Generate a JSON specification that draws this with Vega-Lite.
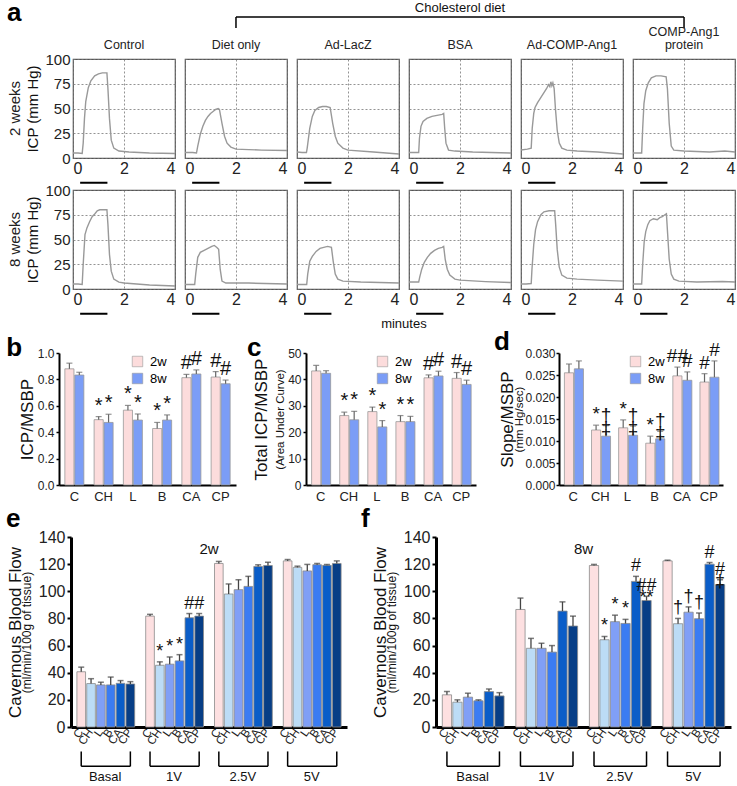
{
"$schema":"https://vega.github.io/schema/vega-lite/v6.json",
"padding":{"left":5,"top":0,"right":0,"bottom":0},
"config":{"font":"Liberation Sans","view":{"stroke":"#555","strokeWidth":1.2},"axis":{"labelColor":"#222","titleColor":"#111","titleFontWeight":"normal","labelOverlap":false},"header":{"labelColor":"#222"}},
"datasets":{
"icp":[
{"g":"Control","w":"2 weeks","k":"tr","t":0,"v":5},{"g":"Control","w":"2 weeks","k":"tr","t":0.2,"v":5},{"g":"Control","w":"2 weeks","k":"tr","t":0.36,"v":4.5},{"g":"Control","w":"2 weeks","k":"tr","t":0.4,"v":15},{"g":"Control","w":"2 weeks","k":"tr","t":0.45,"v":40},{"g":"Control","w":"2 weeks","k":"tr","t":0.5,"v":57},{"g":"Control","w":"2 weeks","k":"tr","t":0.6,"v":71},{"g":"Control","w":"2 weeks","k":"tr","t":0.7,"v":78},{"g":"Control","w":"2 weeks","k":"tr","t":0.85,"v":83},{"g":"Control","w":"2 weeks","k":"tr","t":1.0,"v":85},{"g":"Control","w":"2 weeks","k":"tr","t":1.15,"v":86},{"g":"Control","w":"2 weeks","k":"tr","t":1.33,"v":86},{"g":"Control","w":"2 weeks","k":"tr","t":1.37,"v":70},{"g":"Control","w":"2 weeks","k":"tr","t":1.43,"v":40},{"g":"Control","w":"2 weeks","k":"tr","t":1.5,"v":18},{"g":"Control","w":"2 weeks","k":"tr","t":1.6,"v":10},{"g":"Control","w":"2 weeks","k":"tr","t":1.8,"v":7},{"g":"Control","w":"2 weeks","k":"tr","t":2.2,"v":6},{"g":"Control","w":"2 weeks","k":"tr","t":3,"v":5},{"g":"Control","w":"2 weeks","k":"tr","t":4,"v":4.5},
{"g":"Diet only","w":"2 weeks","k":"tr","t":0,"v":5.5},{"g":"Diet only","w":"2 weeks","k":"tr","t":0.3,"v":5.5},{"g":"Diet only","w":"2 weeks","k":"tr","t":0.45,"v":5},{"g":"Diet only","w":"2 weeks","k":"tr","t":0.5,"v":12},{"g":"Diet only","w":"2 weeks","k":"tr","t":0.6,"v":24},{"g":"Diet only","w":"2 weeks","k":"tr","t":0.7,"v":32},{"g":"Diet only","w":"2 weeks","k":"tr","t":0.8,"v":38},{"g":"Diet only","w":"2 weeks","k":"tr","t":0.9,"v":42},{"g":"Diet only","w":"2 weeks","k":"tr","t":1.0,"v":45},{"g":"Diet only","w":"2 weeks","k":"tr","t":1.1,"v":47},{"g":"Diet only","w":"2 weeks","k":"tr","t":1.2,"v":49},{"g":"Diet only","w":"2 weeks","k":"tr","t":1.3,"v":50},{"g":"Diet only","w":"2 weeks","k":"tr","t":1.35,"v":49},{"g":"Diet only","w":"2 weeks","k":"tr","t":1.45,"v":35},{"g":"Diet only","w":"2 weeks","k":"tr","t":1.55,"v":22},{"g":"Diet only","w":"2 weeks","k":"tr","t":1.65,"v":15},{"g":"Diet only","w":"2 weeks","k":"tr","t":1.8,"v":11},{"g":"Diet only","w":"2 weeks","k":"tr","t":2,"v":9},{"g":"Diet only","w":"2 weeks","k":"tr","t":2.5,"v":8.5},{"g":"Diet only","w":"2 weeks","k":"tr","t":3,"v":8},{"g":"Diet only","w":"2 weeks","k":"tr","t":4,"v":7.5},
{"g":"Ad-LacZ","w":"2 weeks","k":"tr","t":0,"v":6},{"g":"Ad-LacZ","w":"2 weeks","k":"tr","t":0.2,"v":5.5},{"g":"Ad-LacZ","w":"2 weeks","k":"tr","t":0.37,"v":5.5},{"g":"Ad-LacZ","w":"2 weeks","k":"tr","t":0.4,"v":10},{"g":"Ad-LacZ","w":"2 weeks","k":"tr","t":0.5,"v":30},{"g":"Ad-LacZ","w":"2 weeks","k":"tr","t":0.6,"v":42},{"g":"Ad-LacZ","w":"2 weeks","k":"tr","t":0.7,"v":48},{"g":"Ad-LacZ","w":"2 weeks","k":"tr","t":0.85,"v":51},{"g":"Ad-LacZ","w":"2 weeks","k":"tr","t":1.0,"v":52},{"g":"Ad-LacZ","w":"2 weeks","k":"tr","t":1.15,"v":52},{"g":"Ad-LacZ","w":"2 weeks","k":"tr","t":1.3,"v":51},{"g":"Ad-LacZ","w":"2 weeks","k":"tr","t":1.4,"v":35},{"g":"Ad-LacZ","w":"2 weeks","k":"tr","t":1.5,"v":22},{"g":"Ad-LacZ","w":"2 weeks","k":"tr","t":1.6,"v":15},{"g":"Ad-LacZ","w":"2 weeks","k":"tr","t":1.8,"v":10},{"g":"Ad-LacZ","w":"2 weeks","k":"tr","t":2,"v":8},{"g":"Ad-LacZ","w":"2 weeks","k":"tr","t":3,"v":6},{"g":"Ad-LacZ","w":"2 weeks","k":"tr","t":4,"v":4},
{"g":"BSA","w":"2 weeks","k":"tr","t":0,"v":5.5},{"g":"BSA","w":"2 weeks","k":"tr","t":0.38,"v":5.5},{"g":"BSA","w":"2 weeks","k":"tr","t":0.41,"v":20},{"g":"BSA","w":"2 weeks","k":"tr","t":0.47,"v":32},{"g":"BSA","w":"2 weeks","k":"tr","t":0.55,"v":37},{"g":"BSA","w":"2 weeks","k":"tr","t":0.7,"v":40},{"g":"BSA","w":"2 weeks","k":"tr","t":0.9,"v":42},{"g":"BSA","w":"2 weeks","k":"tr","t":1.1,"v":43},{"g":"BSA","w":"2 weeks","k":"tr","t":1.3,"v":44},{"g":"BSA","w":"2 weeks","k":"tr","t":1.36,"v":45},{"g":"BSA","w":"2 weeks","k":"tr","t":1.4,"v":30},{"g":"BSA","w":"2 weeks","k":"tr","t":1.45,"v":15},{"g":"BSA","w":"2 weeks","k":"tr","t":1.55,"v":8},{"g":"BSA","w":"2 weeks","k":"tr","t":1.8,"v":7},{"g":"BSA","w":"2 weeks","k":"tr","t":2.5,"v":6},{"g":"BSA","w":"2 weeks","k":"tr","t":4,"v":5},
{"g":"Ad-COMP-Ang1","w":"2 weeks","k":"tr","t":0,"v":8},{"g":"Ad-COMP-Ang1","w":"2 weeks","k":"tr","t":0.25,"v":9},{"g":"Ad-COMP-Ang1","w":"2 weeks","k":"tr","t":0.4,"v":10},{"g":"Ad-COMP-Ang1","w":"2 weeks","k":"tr","t":0.44,"v":30},{"g":"Ad-COMP-Ang1","w":"2 weeks","k":"tr","t":0.5,"v":45},{"g":"Ad-COMP-Ang1","w":"2 weeks","k":"tr","t":0.55,"v":51},{"g":"Ad-COMP-Ang1","w":"2 weeks","k":"tr","t":0.65,"v":56},{"g":"Ad-COMP-Ang1","w":"2 weeks","k":"tr","t":0.8,"v":62},{"g":"Ad-COMP-Ang1","w":"2 weeks","k":"tr","t":0.9,"v":66},{"g":"Ad-COMP-Ang1","w":"2 weeks","k":"tr","t":1.0,"v":70},{"g":"Ad-COMP-Ang1","w":"2 weeks","k":"tr","t":1.08,"v":74},{"g":"Ad-COMP-Ang1","w":"2 weeks","k":"tr","t":1.13,"v":72},{"g":"Ad-COMP-Ang1","w":"2 weeks","k":"tr","t":1.17,"v":77},{"g":"Ad-COMP-Ang1","w":"2 weeks","k":"tr","t":1.21,"v":73},{"g":"Ad-COMP-Ang1","w":"2 weeks","k":"tr","t":1.25,"v":76},{"g":"Ad-COMP-Ang1","w":"2 weeks","k":"tr","t":1.3,"v":70},{"g":"Ad-COMP-Ang1","w":"2 weeks","k":"tr","t":1.35,"v":50},{"g":"Ad-COMP-Ang1","w":"2 weeks","k":"tr","t":1.42,"v":28},{"g":"Ad-COMP-Ang1","w":"2 weeks","k":"tr","t":1.5,"v":15},{"g":"Ad-COMP-Ang1","w":"2 weeks","k":"tr","t":1.6,"v":10},{"g":"Ad-COMP-Ang1","w":"2 weeks","k":"tr","t":1.8,"v":8},{"g":"Ad-COMP-Ang1","w":"2 weeks","k":"tr","t":2.2,"v":7},{"g":"Ad-COMP-Ang1","w":"2 weeks","k":"tr","t":3,"v":6},{"g":"Ad-COMP-Ang1","w":"2 weeks","k":"tr","t":4,"v":4},
{"g":"COMP-Ang1|protein","w":"2 weeks","k":"tr","t":0,"v":5},{"g":"COMP-Ang1|protein","w":"2 weeks","k":"tr","t":0.2,"v":5},{"g":"COMP-Ang1|protein","w":"2 weeks","k":"tr","t":0.34,"v":5},{"g":"COMP-Ang1|protein","w":"2 weeks","k":"tr","t":0.38,"v":30},{"g":"COMP-Ang1|protein","w":"2 weeks","k":"tr","t":0.43,"v":55},{"g":"COMP-Ang1|protein","w":"2 weeks","k":"tr","t":0.5,"v":68},{"g":"COMP-Ang1|protein","w":"2 weeks","k":"tr","t":0.6,"v":76},{"g":"COMP-Ang1|protein","w":"2 weeks","k":"tr","t":0.72,"v":81},{"g":"COMP-Ang1|protein","w":"2 weeks","k":"tr","t":0.9,"v":83},{"g":"COMP-Ang1|protein","w":"2 weeks","k":"tr","t":1.1,"v":83},{"g":"COMP-Ang1|protein","w":"2 weeks","k":"tr","t":1.3,"v":82},{"g":"COMP-Ang1|protein","w":"2 weeks","k":"tr","t":1.35,"v":70},{"g":"COMP-Ang1|protein","w":"2 weeks","k":"tr","t":1.42,"v":35},{"g":"COMP-Ang1|protein","w":"2 weeks","k":"tr","t":1.5,"v":12},{"g":"COMP-Ang1|protein","w":"2 weeks","k":"tr","t":1.6,"v":8},{"g":"COMP-Ang1|protein","w":"2 weeks","k":"tr","t":2,"v":7},{"g":"COMP-Ang1|protein","w":"2 weeks","k":"tr","t":3,"v":6},{"g":"COMP-Ang1|protein","w":"2 weeks","k":"tr","t":3.6,"v":7},{"g":"COMP-Ang1|protein","w":"2 weeks","k":"tr","t":4,"v":6},
{"g":"Control","w":"8 weeks","k":"tr","t":0,"v":5},{"g":"Control","w":"8 weeks","k":"tr","t":0.2,"v":5},{"g":"Control","w":"8 weeks","k":"tr","t":0.36,"v":4.5},{"g":"Control","w":"8 weeks","k":"tr","t":0.4,"v":25},{"g":"Control","w":"8 weeks","k":"tr","t":0.47,"v":55},{"g":"Control","w":"8 weeks","k":"tr","t":0.55,"v":62},{"g":"Control","w":"8 weeks","k":"tr","t":0.65,"v":68},{"g":"Control","w":"8 weeks","k":"tr","t":0.75,"v":73},{"g":"Control","w":"8 weeks","k":"tr","t":0.86,"v":76},{"g":"Control","w":"8 weeks","k":"tr","t":0.95,"v":79},{"g":"Control","w":"8 weeks","k":"tr","t":1.05,"v":80},{"g":"Control","w":"8 weeks","k":"tr","t":1.33,"v":80},{"g":"Control","w":"8 weeks","k":"tr","t":1.37,"v":65},{"g":"Control","w":"8 weeks","k":"tr","t":1.43,"v":35},{"g":"Control","w":"8 weeks","k":"tr","t":1.5,"v":18},{"g":"Control","w":"8 weeks","k":"tr","t":1.6,"v":10},{"g":"Control","w":"8 weeks","k":"tr","t":1.8,"v":7},{"g":"Control","w":"8 weeks","k":"tr","t":2,"v":6},{"g":"Control","w":"8 weeks","k":"tr","t":3,"v":4},{"g":"Control","w":"8 weeks","k":"tr","t":4,"v":3},
{"g":"Diet only","w":"8 weeks","k":"tr","t":0,"v":4.5},{"g":"Diet only","w":"8 weeks","k":"tr","t":0.38,"v":4.5},{"g":"Diet only","w":"8 weeks","k":"tr","t":0.42,"v":15},{"g":"Diet only","w":"8 weeks","k":"tr","t":0.5,"v":32},{"g":"Diet only","w":"8 weeks","k":"tr","t":0.6,"v":37},{"g":"Diet only","w":"8 weeks","k":"tr","t":0.75,"v":39},{"g":"Diet only","w":"8 weeks","k":"tr","t":0.9,"v":41},{"g":"Diet only","w":"8 weeks","k":"tr","t":1.05,"v":43},{"g":"Diet only","w":"8 weeks","k":"tr","t":1.15,"v":44},{"g":"Diet only","w":"8 weeks","k":"tr","t":1.25,"v":42},{"g":"Diet only","w":"8 weeks","k":"tr","t":1.32,"v":40},{"g":"Diet only","w":"8 weeks","k":"tr","t":1.38,"v":20},{"g":"Diet only","w":"8 weeks","k":"tr","t":1.45,"v":8},{"g":"Diet only","w":"8 weeks","k":"tr","t":1.6,"v":6},{"g":"Diet only","w":"8 weeks","k":"tr","t":2.5,"v":6},{"g":"Diet only","w":"8 weeks","k":"tr","t":4,"v":5},
{"g":"Ad-LacZ","w":"8 weeks","k":"tr","t":0,"v":4.5},{"g":"Ad-LacZ","w":"8 weeks","k":"tr","t":0.38,"v":4.5},{"g":"Ad-LacZ","w":"8 weeks","k":"tr","t":0.42,"v":15},{"g":"Ad-LacZ","w":"8 weeks","k":"tr","t":0.5,"v":28},{"g":"Ad-LacZ","w":"8 weeks","k":"tr","t":0.6,"v":33},{"g":"Ad-LacZ","w":"8 weeks","k":"tr","t":0.75,"v":38},{"g":"Ad-LacZ","w":"8 weeks","k":"tr","t":0.9,"v":41},{"g":"Ad-LacZ","w":"8 weeks","k":"tr","t":1.05,"v":42},{"g":"Ad-LacZ","w":"8 weeks","k":"tr","t":1.2,"v":43},{"g":"Ad-LacZ","w":"8 weeks","k":"tr","t":1.35,"v":42},{"g":"Ad-LacZ","w":"8 weeks","k":"tr","t":1.42,"v":28},{"g":"Ad-LacZ","w":"8 weeks","k":"tr","t":1.5,"v":15},{"g":"Ad-LacZ","w":"8 weeks","k":"tr","t":1.6,"v":10},{"g":"Ad-LacZ","w":"8 weeks","k":"tr","t":1.8,"v":8},{"g":"Ad-LacZ","w":"8 weeks","k":"tr","t":2.5,"v":7},{"g":"Ad-LacZ","w":"8 weeks","k":"tr","t":4,"v":6},
{"g":"BSA","w":"8 weeks","k":"tr","t":0,"v":7},{"g":"BSA","w":"8 weeks","k":"tr","t":0.38,"v":7},{"g":"BSA","w":"8 weeks","k":"tr","t":0.42,"v":12},{"g":"BSA","w":"8 weeks","k":"tr","t":0.5,"v":20},{"g":"BSA","w":"8 weeks","k":"tr","t":0.6,"v":27},{"g":"BSA","w":"8 weeks","k":"tr","t":0.72,"v":32},{"g":"BSA","w":"8 weeks","k":"tr","t":0.85,"v":36},{"g":"BSA","w":"8 weeks","k":"tr","t":1.0,"v":39},{"g":"BSA","w":"8 weeks","k":"tr","t":1.15,"v":41},{"g":"BSA","w":"8 weeks","k":"tr","t":1.3,"v":42},{"g":"BSA","w":"8 weeks","k":"tr","t":1.36,"v":43},{"g":"BSA","w":"8 weeks","k":"tr","t":1.42,"v":30},{"g":"BSA","w":"8 weeks","k":"tr","t":1.5,"v":20},{"g":"BSA","w":"8 weeks","k":"tr","t":1.6,"v":14},{"g":"BSA","w":"8 weeks","k":"tr","t":1.8,"v":10},{"g":"BSA","w":"8 weeks","k":"tr","t":2,"v":9},{"g":"BSA","w":"8 weeks","k":"tr","t":3,"v":7.5},{"g":"BSA","w":"8 weeks","k":"tr","t":4,"v":6.5},
{"g":"Ad-COMP-Ang1","w":"8 weeks","k":"tr","t":0,"v":5},{"g":"Ad-COMP-Ang1","w":"8 weeks","k":"tr","t":0.2,"v":5},{"g":"Ad-COMP-Ang1","w":"8 weeks","k":"tr","t":0.4,"v":5.5},{"g":"Ad-COMP-Ang1","w":"8 weeks","k":"tr","t":0.43,"v":20},{"g":"Ad-COMP-Ang1","w":"8 weeks","k":"tr","t":0.5,"v":45},{"g":"Ad-COMP-Ang1","w":"8 weeks","k":"tr","t":0.57,"v":60},{"g":"Ad-COMP-Ang1","w":"8 weeks","k":"tr","t":0.65,"v":68},{"g":"Ad-COMP-Ang1","w":"8 weeks","k":"tr","t":0.78,"v":75},{"g":"Ad-COMP-Ang1","w":"8 weeks","k":"tr","t":0.9,"v":78},{"g":"Ad-COMP-Ang1","w":"8 weeks","k":"tr","t":1.1,"v":79},{"g":"Ad-COMP-Ang1","w":"8 weeks","k":"tr","t":1.32,"v":79},{"g":"Ad-COMP-Ang1","w":"8 weeks","k":"tr","t":1.36,"v":65},{"g":"Ad-COMP-Ang1","w":"8 weeks","k":"tr","t":1.42,"v":40},{"g":"Ad-COMP-Ang1","w":"8 weeks","k":"tr","t":1.5,"v":22},{"g":"Ad-COMP-Ang1","w":"8 weeks","k":"tr","t":1.6,"v":14},{"g":"Ad-COMP-Ang1","w":"8 weeks","k":"tr","t":1.8,"v":11},{"g":"Ad-COMP-Ang1","w":"8 weeks","k":"tr","t":2.2,"v":10},{"g":"Ad-COMP-Ang1","w":"8 weeks","k":"tr","t":3,"v":9},{"g":"Ad-COMP-Ang1","w":"8 weeks","k":"tr","t":4,"v":8},
{"g":"COMP-Ang1|protein","w":"8 weeks","k":"tr","t":0,"v":5},{"g":"COMP-Ang1|protein","w":"8 weeks","k":"tr","t":0.2,"v":5},{"g":"COMP-Ang1|protein","w":"8 weeks","k":"tr","t":0.34,"v":5},{"g":"COMP-Ang1|protein","w":"8 weeks","k":"tr","t":0.38,"v":25},{"g":"COMP-Ang1|protein","w":"8 weeks","k":"tr","t":0.44,"v":48},{"g":"COMP-Ang1|protein","w":"8 weeks","k":"tr","t":0.5,"v":58},{"g":"COMP-Ang1|protein","w":"8 weeks","k":"tr","t":0.58,"v":65},{"g":"COMP-Ang1|protein","w":"8 weeks","k":"tr","t":0.66,"v":69},{"g":"COMP-Ang1|protein","w":"8 weeks","k":"tr","t":0.8,"v":71},{"g":"COMP-Ang1|protein","w":"8 weeks","k":"tr","t":0.95,"v":70},{"g":"COMP-Ang1|protein","w":"8 weeks","k":"tr","t":1.05,"v":72},{"g":"COMP-Ang1|protein","w":"8 weeks","k":"tr","t":1.15,"v":73},{"g":"COMP-Ang1|protein","w":"8 weeks","k":"tr","t":1.25,"v":75},{"g":"COMP-Ang1|protein","w":"8 weeks","k":"tr","t":1.31,"v":76},{"g":"COMP-Ang1|protein","w":"8 weeks","k":"tr","t":1.36,"v":55},{"g":"COMP-Ang1|protein","w":"8 weeks","k":"tr","t":1.42,"v":30},{"g":"COMP-Ang1|protein","w":"8 weeks","k":"tr","t":1.5,"v":15},{"g":"COMP-Ang1|protein","w":"8 weeks","k":"tr","t":1.6,"v":10},{"g":"COMP-Ang1|protein","w":"8 weeks","k":"tr","t":1.8,"v":8},{"g":"COMP-Ang1|protein","w":"8 weeks","k":"tr","t":2.5,"v":7},{"g":"COMP-Ang1|protein","w":"8 weeks","k":"tr","t":3.5,"v":7.5},{"g":"COMP-Ang1|protein","w":"8 weeks","k":"tr","t":4,"v":7},
{"g":"Control","w":"2 weeks","k":"st","t":0.28,"t2":1.35},{"g":"Diet only","w":"2 weeks","k":"st","t":0.28,"t2":1.35},{"g":"Ad-LacZ","w":"2 weeks","k":"st","t":0.28,"t2":1.35},{"g":"BSA","w":"2 weeks","k":"st","t":0.28,"t2":1.35},{"g":"Ad-COMP-Ang1","w":"2 weeks","k":"st","t":0.28,"t2":1.35},{"g":"COMP-Ang1|protein","w":"2 weeks","k":"st","t":0.28,"t2":1.35},
{"g":"Control","w":"8 weeks","k":"st","t":0.28,"t2":1.35},{"g":"Diet only","w":"8 weeks","k":"st","t":0.28,"t2":1.35},{"g":"Ad-LacZ","w":"8 weeks","k":"st","t":0.28,"t2":1.35},{"g":"BSA","w":"8 weeks","k":"st","t":0.28,"t2":1.35},{"g":"Ad-COMP-Ang1","w":"8 weeks","k":"st","t":0.28,"t2":1.35},{"g":"COMP-Ang1|protein","w":"8 weeks","k":"st","t":0.28,"t2":1.35},
{"g":"BSA","w":"8 weeks","k":"lb","t":-0.2,"s":"minutes"}
],
"bd":[
{"c":"C","w":"2w","m":0.88,"h":0.923,"a":""},{"c":"C","w":"8w","m":0.833,"h":0.854,"a":""},
{"c":"CH","w":"2w","m":0.495,"h":0.518,"a":"*"},{"c":"CH","w":"8w","m":0.474,"h":0.536,"a":"*"},
{"c":"L","w":"2w","m":0.567,"h":0.603,"a":"*"},{"c":"L","w":"8w","m":0.492,"h":0.538,"a":"*"},
{"c":"B","w":"2w","m":0.428,"h":0.474,"a":"*"},{"c":"B","w":"8w","m":0.492,"h":0.531,"a":"*"},
{"c":"CA","w":"2w","m":0.813,"h":0.838,"a":"#"},{"c":"CA","w":"8w","m":0.841,"h":0.872,"a":"#"},
{"c":"CP","w":"2w","m":0.818,"h":0.859,"a":"#"},{"c":"CP","w":"8w","m":0.767,"h":0.795,"a":"#"}
],
"cd":[
{"c":"C","w":"2w","m":43.2,"h":45.3,"a":""},{"c":"C","w":"8w","m":42.3,"h":43.3,"a":""},
{"c":"CH","w":"2w","m":26.3,"h":27.6,"a":"*"},{"c":"CH","w":"8w","m":24.7,"h":27.9,"a":"*"},
{"c":"L","w":"2w","m":27.8,"h":29.5,"a":"*"},{"c":"L","w":"8w","m":22.0,"h":24.4,"a":"*"},
{"c":"B","w":"2w","m":24.0,"h":26.3,"a":"*"},{"c":"B","w":"8w","m":24.0,"h":26.0,"a":"*"},
{"c":"CA","w":"2w","m":40.6,"h":41.7,"a":"#"},{"c":"CA","w":"8w","m":41.3,"h":43.1,"a":"#"},
{"c":"CP","w":"2w","m":40.4,"h":42.6,"a":"#"},{"c":"CP","w":"8w","m":38.1,"h":39.7,"a":"#"}
],
"dd":[
{"c":"C","w":"2w","m":0.0255,"h":0.0275,"a":""},{"c":"C","w":"8w","m":0.0264,"h":0.0282,"a":""},
{"c":"CH","w":"2w","m":0.0125,"h":0.0136,"a":"*"},{"c":"CH","w":"8w","m":0.0111,"h":0.0135,"a":"†\n‡"},
{"c":"L","w":"2w","m":0.0130,"h":0.0148,"a":"*"},{"c":"L","w":"8w","m":0.0113,"h":0.0134,"a":"†\n‡"},
{"c":"B","w":"2w","m":0.0095,"h":0.0111,"a":"*"},{"c":"B","w":"8w","m":0.0105,"h":0.0122,"a":"†\n‡"},
{"c":"CA","w":"2w","m":0.0248,"h":0.0268,"a":"##"},{"c":"CA","w":"8w","m":0.0238,"h":0.0257,"a":"#"},
{"c":"CP","w":"2w","m":0.0234,"h":0.0253,"a":"#"},{"c":"CP","w":"8w","m":0.0245,"h":0.0282,"a":"#"}
],
"flow":[
{"w":"2w","g":"Basal","b":"C","key":"Basal|C","m":40.7,"h":44.1,"a":""},{"w":"2w","g":"Basal","b":"CH","key":"Basal|CH","m":32,"h":35.6,"a":""},{"w":"2w","g":"Basal","b":"L","key":"Basal|L","m":31,"h":33,"a":""},{"w":"2w","g":"Basal","b":"B","key":"Basal|B","m":31,"h":36.8,"a":""},{"w":"2w","g":"Basal","b":"CA","key":"Basal|CA","m":32.2,"h":34.2,"a":""},{"w":"2w","g":"Basal","b":"CP","key":"Basal|CP","m":31.7,"h":33.4,"a":""},
{"w":"2w","g":"1V","b":"C","key":"1V|C","m":81.7,"h":83,"a":""},{"w":"2w","g":"1V","b":"CH","key":"1V|CH","m":45.5,"h":48,"a":"*"},{"w":"2w","g":"1V","b":"L","key":"1V|L","m":46.3,"h":51.6,"a":"*"},{"w":"2w","g":"1V","b":"B","key":"1V|B","m":48.7,"h":53.3,"a":"*"},{"w":"2w","g":"1V","b":"CA","key":"1V|CA","m":80.5,"h":83.6,"a":"#"},{"w":"2w","g":"1V","b":"CP","key":"1V|CP","m":81.7,"h":83.6,"a":"#"},
{"w":"2w","g":"2.5V","b":"C","key":"2.5V|C","m":120.5,"h":122,"a":""},{"w":"2w","g":"2.5V","b":"CH","key":"2.5V|CH","m":98,"h":105.4,"a":""},{"w":"2w","g":"2.5V","b":"L","key":"2.5V|L","m":101.2,"h":108.5,"a":""},{"w":"2w","g":"2.5V","b":"B","key":"2.5V|B","m":103.6,"h":111,"a":""},{"w":"2w","g":"2.5V","b":"CA","key":"2.5V|CA","m":118.3,"h":119.5,"a":""},{"w":"2w","g":"2.5V","b":"CP","key":"2.5V|CP","m":119,"h":121.4,"a":""},
{"w":"2w","g":"5V","b":"C","key":"5V|C","m":122.4,"h":123.4,"a":""},{"w":"2w","g":"5V","b":"CH","key":"5V|CH","m":117.6,"h":118.5,"a":""},{"w":"2w","g":"5V","b":"L","key":"5V|L","m":115,"h":119.8,"a":""},{"w":"2w","g":"5V","b":"B","key":"5V|B","m":119.6,"h":120.5,"a":""},{"w":"2w","g":"5V","b":"CA","key":"5V|CA","m":119.1,"h":119.8,"a":""},{"w":"2w","g":"5V","b":"CP","key":"5V|CP","m":120.5,"h":122.4,"a":""},
{"w":"8w","g":"Basal","b":"C","key":"Basal|C","m":23.7,"h":26.1,"a":""},{"w":"8w","g":"Basal","b":"CH","key":"Basal|CH","m":18.3,"h":20,"a":""},{"w":"8w","g":"Basal","b":"L","key":"Basal|L","m":22,"h":24.9,"a":""},{"w":"8w","g":"Basal","b":"B","key":"Basal|B","m":19.3,"h":20,"a":""},{"w":"8w","g":"Basal","b":"CA","key":"Basal|CA","m":26.1,"h":28,"a":""},{"w":"8w","g":"Basal","b":"CP","key":"Basal|CP","m":22.9,"h":25.3,"a":""},
{"w":"8w","g":"1V","b":"C","key":"1V|C","m":86.6,"h":95,"a":""},{"w":"8w","g":"1V","b":"CH","key":"1V|CH","m":58,"h":65.3,"a":""},{"w":"8w","g":"1V","b":"L","key":"1V|L","m":58,"h":61.7,"a":""},{"w":"8w","g":"1V","b":"B","key":"1V|B","m":55.2,"h":60,"a":""},{"w":"8w","g":"1V","b":"CA","key":"1V|CA","m":85.4,"h":92.2,"a":""},{"w":"8w","g":"1V","b":"CP","key":"1V|CP","m":74.4,"h":81.7,"a":""},
{"w":"8w","g":"2.5V","b":"C","key":"2.5V|C","m":119,"h":119.8,"a":""},{"w":"8w","g":"2.5V","b":"CH","key":"2.5V|CH","m":64.3,"h":66.7,"a":"*"},{"w":"8w","g":"2.5V","b":"L","key":"2.5V|L","m":77.6,"h":82.4,"a":"*"},{"w":"8w","g":"2.5V","b":"B","key":"2.5V|B","m":76.3,"h":79.3,"a":"*"},{"w":"8w","g":"2.5V","b":"CA","key":"2.5V|CA","m":107.3,"h":111,"a":"#"},{"w":"8w","g":"2.5V","b":"CP","key":"2.5V|CP","m":93.2,"h":96.3,"a":"##\n**"},
{"w":"8w","g":"5V","b":"C","key":"5V|C","m":122.4,"h":122.9,"a":""},{"w":"8w","g":"5V","b":"CH","key":"5V|CH","m":76.1,"h":80,"a":"†"},{"w":"8w","g":"5V","b":"L","key":"5V|L","m":84.6,"h":88.5,"a":"†"},{"w":"8w","g":"5V","b":"B","key":"5V|B","m":79.8,"h":84,"a":"†"},{"w":"8w","g":"5V","b":"CA","key":"5V|CA","m":120,"h":121.2,"a":"#"},{"w":"8w","g":"5V","b":"CP","key":"5V|CP","m":104.9,"h":108.5,"a":"#\n‡"}
],
"brk":[
{"g":"Basal","k1":"Basal|C","k2":"Basal|CP","km":"Basal|L"},
{"g":"1V","k1":"1V|C","k2":"1V|CP","km":"1V|L"},
{"g":"2.5V","k1":"2.5V|C","k2":"2.5V|CP","km":"2.5V|L"},
{"g":"5V","k1":"5V|C","k2":"5V|CP","km":"5V|L"}
],
"sp":[{"z":0}]
},
"spacing":3,
"resolve":{"scale":{"color":"independent"},"legend":{"color":"independent"}},
"vconcat":[
{"spacing":-4,"resolve":{"scale":{"color":"independent"},"legend":{"color":"independent"}},"vconcat":[
{"spacing":0,"hconcat":[
{"width":1,"height":1,"view":{"stroke":null},"data":{"name":"sp"},"mark":{"type":"point","opacity":0,"size":1}},
{"spacing":-4,"vconcat":[
{
"width":662,"height":28,"view":{"stroke":null},
"data":{"values":[
{"k":"r","x":1,"x2":5,"y":3.93,"y2":3.93},
{"k":"r","x":1,"x2":1,"y":3.93,"y2":0},
{"k":"r","x":5,"x2":5,"y":3.93,"y2":0},
{"k":"t","x":3,"y":7.2,"s":"Cholesterol diet"},
{"k":"a","x":-1.045,"y":5.3,"s":"a"}
]},
"encoding":{
"x":{"field":"x","type":"quantitative","scale":{"domain":[-0.455,5.455],"nice":false,"zero":false},"axis":null},
"y":{"field":"y","type":"quantitative","scale":{"domain":[0,10],"nice":false},"axis":null}
},
"layer":[
{"transform":[{"filter":"datum.k=='r'"}],"mark":{"type":"rule","color":"#000","strokeWidth":1.5},"encoding":{"x2":{"field":"x2"},"y2":{"field":"y2"}}},
{"transform":[{"filter":"datum.k=='t'"}],"mark":{"type":"text","fontSize":13,"baseline":"middle","color":"#111"},"encoding":{"text":{"field":"s"}}},
{"transform":[{"filter":"datum.k=='a'"}],"mark":{"type":"text","fontSize":26,"fontWeight":"bold","align":"left","baseline":"middle","color":"#000","clip":false},"encoding":{"text":{"field":"s"}}}
]
},
{
"data":{"name":"icp"},
"bounds":"flush",
"facet":{
"row":{"field":"w","type":"nominal","sort":["2 weeks","8 weeks"],"title":null,"header":{"labelAngle":-90,"labelFontSize":15,"labelPadding":-4}},
"column":{"field":"g","type":"nominal","sort":["Control","Diet only","Ad-LacZ","BSA","Ad-COMP-Ang1","COMP-Ang1|protein"],"title":null,"header":{"labelFontSize":12.5,"labelExpr":"split(datum.value,'|')","labelPadding":2,"labelBaseline":"middle","labelLineHeight":13}}
},
"spacing":{"row":32,"column":10},
"resolve":{"axis":{"x":"independent"}},
"spec":{
"width":102,"height":99,
"layer":[
{"transform":[{"filter":"datum.k=='tr'"}],"mark":{"type":"line","color":"#999","strokeWidth":1.4,"clip":true},
"encoding":{
"x":{"field":"t","type":"quantitative","scale":{"domain":[0,4],"nice":false},"axis":{"values":[0,2,4],"tickCount":10,"format":"d","title":null,"labelFontSize":16,"labelPadding":2,"ticks":false,"domain":false,"grid":true,"gridDash":[2,2],"gridColor":"#777","gridWidth":0.8,"labelFlush":true,"labelOverlap":false}},
"y":{"field":"v","type":"quantitative","scale":{"domain":[0,100],"nice":false},"axis":{"values":[0,25,50,75,100],"tickCount":10,"format":"d","title":"ICP (mm Hg)","titleFontSize":15,"titlePadding":4,"labelFontSize":15,"labelPadding":3,"ticks":false,"domain":false,"grid":true,"gridDash":[2,2],"gridColor":"#777","gridWidth":0.8,"labelOverlap":false}}
}},
{"transform":[{"filter":"datum.k=='st'"}],"mark":{"type":"rule","color":"#000","strokeWidth":2,"clip":false},
"encoding":{"x":{"field":"t","type":"quantitative"},"x2":{"field":"t2"},"y":{"datum":-25}}},
{"transform":[{"filter":"datum.k=='lb'"}],"mark":{"type":"text","fontSize":13,"align":"center","baseline":"middle","clip":false,"color":"#111"},
"encoding":{"x":{"field":"t","type":"quantitative"},"y":{"datum":-35},"text":{"field":"s"}}}
]
}
}
]}
]},
{"spacing":0,"resolve":{"scale":{"color":"independent"},"legend":{"color":"independent"}},"hconcat":[
{"width":1,"height":1,"view":{"stroke":null},"data":{"name":"sp"},"mark":{"type":"point","opacity":0,"size":1}},
{
"spacing":18,
"resolve":{"scale":{"color":"independent"},"legend":{"color":"independent"}},
"hconcat":[
{"spacing":10,"resolve":{"scale":{"color":"independent"},"legend":{"color":"independent"}},"hconcat":[
{
"title":{"text":"b","anchor":"start","frame":"bounds","fontSize":26,"fontWeight":"bold","dx":-12,"offset":-14,"color":"#000"},
"width":177,"height":132,"view":{"stroke":null},
"data":{"name":"bd"},
"encoding":{
"x":{"field":"c","type":"nominal","sort":["C","CH","L","B","CA","CP"],"scale":{"paddingInner":0.35,"paddingOuter":0.2},"axis":{"title":null,"labelAngle":0,"labelFontSize":13,"ticks":false,"domainWidth":2,"domainColor":"#000","labelPadding":5,"labelOverlap":false}},
"xOffset":{"field":"w","type":"nominal","sort":["2w","8w"],"scale":{"paddingInner":0.08}}
},
"layer":[
{"mark":{"type":"bar","stroke":"#999","strokeWidth":0.8},"encoding":{
"y":{"field":"m","type":"quantitative","scale":{"domain":[0,1],"nice":false},"axis":{"values":[0,0.2,0.4,0.6,0.8,1.0],"tickCount":10,"format":".1f","title":"ICP/MSBP","titleFontSize":17,"titlePadding":1,"labelFontSize":12,"labelPadding":2,"tickSize":3,"tickWidth":1.5,"tickColor":"#000","domainWidth":2,"domainColor":"#000","grid":false,"labelOverlap":false}},
"color":{"field":"w","type":"nominal","scale":{"domain":["2w","8w"],"range":["#fcdcdc","#7b9df6"]},"legend":{"title":null,"orient":"none","legendX":72,"legendY":2,"symbolType":"square","symbolSize":110,"symbolStrokeColor":"#999","symbolStrokeWidth":0.6,"labelFontSize":13,"rowPadding":3,"labelOffset":6}}}},
{"mark":{"type":"rule","color":"#666","strokeWidth":1.2},"encoding":{"y":{"field":"m","type":"quantitative"},"y2":{"field":"h"}}},
{"mark":{"type":"tick","color":"#666","thickness":1.2,"size":6},"encoding":{"y":{"field":"h","type":"quantitative"}}},
{"transform":[{"filter":"datum.a != ''"}],"mark":{"type":"text","fontSize":20,"baseline":"bottom","dy":-1,"lineBreak":"\n","lineHeight":13,"color":"#111"},"encoding":{"y":{"field":"h","type":"quantitative"},"text":{"field":"a"}}}
]
},
{
"title":{"text":"c","anchor":"start","frame":"bounds","fontSize":26,"fontWeight":"bold","dx":-5,"offset":-14,"color":"#000"},
"width":170,"height":132,"view":{"stroke":null},
"resolve":{"scale":{"y":"independent"}},
"layer":[
{"data":{"name":"cd"},
"encoding":{
"x":{"field":"c","type":"nominal","sort":["C","CH","L","B","CA","CP"],"scale":{"paddingInner":0.35,"paddingOuter":0.2},"axis":{"title":null,"labelAngle":0,"labelFontSize":13,"ticks":false,"domainWidth":2,"domainColor":"#000","labelPadding":5,"labelOverlap":false}},
"xOffset":{"field":"w","type":"nominal","sort":["2w","8w"],"scale":{"paddingInner":0.08}}
},
"layer":[
{"mark":{"type":"bar","stroke":"#999","strokeWidth":0.8},"encoding":{
"y":{"field":"m","type":"quantitative","scale":{"domain":[0,50],"nice":false},"axis":{"values":[0,10,20,30,40,50],"tickCount":10,"format":"d","title":"(Area Under Curve)","titleFontSize":11.5,"titlePadding":2,"labelFontSize":12,"labelPadding":2,"tickSize":3,"tickWidth":1.5,"tickColor":"#000","domainWidth":2,"domainColor":"#000","grid":false,"labelOverlap":false}},
"color":{"field":"w","type":"nominal","scale":{"domain":["2w","8w"],"range":["#fcdcdc","#7b9df6"]},"legend":{"title":null,"orient":"none","legendX":70,"legendY":2,"symbolType":"square","symbolSize":110,"symbolStrokeColor":"#999","symbolStrokeWidth":0.6,"labelFontSize":13,"rowPadding":3,"labelOffset":6}}}},
{"mark":{"type":"rule","color":"#666","strokeWidth":1.2},"encoding":{"y":{"field":"m","type":"quantitative"},"y2":{"field":"h"}}},
{"mark":{"type":"tick","color":"#666","thickness":1.2,"size":6},"encoding":{"y":{"field":"h","type":"quantitative"}}},
{"transform":[{"filter":"datum.a != ''"}],"mark":{"type":"text","fontSize":20,"baseline":"bottom","dy":-1,"lineBreak":"\n","lineHeight":13,"color":"#111"},"encoding":{"y":{"field":"h","type":"quantitative"},"text":{"field":"a"}}}
]},
{"data":{"values":[{"v":0}]},"mark":{"type":"point","opacity":0},"encoding":{"y":{"field":"v","type":"quantitative","scale":{"domain":[0,50],"nice":false},"axis":{"orient":"left","title":"Total ICP/MSBP","labels":false,"ticks":false,"domain":false,"grid":false,"titleFontSize":17,"titlePadding":36}}}}
]
}
]},
{
"title":{"text":"d","anchor":"start","frame":"bounds","fontSize":26,"fontWeight":"bold","dx":-4,"offset":-14,"color":"#000"},
"width":164,"height":132,"view":{"stroke":null},
"resolve":{"scale":{"y":"independent"}},
"layer":[
{"data":{"name":"dd"},
"encoding":{
"x":{"field":"c","type":"nominal","sort":["C","CH","L","B","CA","CP"],"scale":{"paddingInner":0.35,"paddingOuter":0.2},"axis":{"title":null,"labelAngle":0,"labelFontSize":13,"ticks":false,"domainWidth":2,"domainColor":"#000","labelPadding":5,"labelOverlap":false}},
"xOffset":{"field":"w","type":"nominal","sort":["2w","8w"],"scale":{"paddingInner":0.08}}
},
"layer":[
{"mark":{"type":"bar","stroke":"#999","strokeWidth":0.8},"encoding":{
"y":{"field":"m","type":"quantitative","scale":{"domain":[0,0.03],"nice":false},"axis":{"values":[0,0.005,0.01,0.015,0.02,0.025,0.03],"tickCount":10,"format":".3f","title":"(mm Hg/sec)","titleFontSize":11.5,"titlePadding":0,"labelFontSize":12,"labelPadding":1,"tickSize":3,"tickWidth":1.5,"tickColor":"#000","domainWidth":2,"domainColor":"#000","grid":false,"labelOverlap":false}},
"color":{"field":"w","type":"nominal","scale":{"domain":["2w","8w"],"range":["#fcdcdc","#7b9df6"]},"legend":{"title":null,"orient":"none","legendX":70,"legendY":2,"symbolType":"square","symbolSize":110,"symbolStrokeColor":"#999","symbolStrokeWidth":0.6,"labelFontSize":13,"rowPadding":3,"labelOffset":6}}}},
{"mark":{"type":"rule","color":"#666","strokeWidth":1.2},"encoding":{"y":{"field":"m","type":"quantitative"},"y2":{"field":"h"}}},
{"mark":{"type":"tick","color":"#666","thickness":1.2,"size":6},"encoding":{"y":{"field":"h","type":"quantitative"}}},
{"transform":[{"filter":"datum.a != ''"}],"mark":{"type":"text","fontSize":19,"baseline":"bottom","dy":-1,"lineBreak":"\n","lineHeight":13,"color":"#111"},"encoding":{"y":{"field":"h","type":"quantitative"},"text":{"field":"a"}}}
]},
{"data":{"values":[{"v":0}]},"mark":{"type":"point","opacity":0},"encoding":{"y":{"field":"v","type":"quantitative","scale":{"domain":[0,0.03],"nice":false},"axis":{"orient":"left","title":"Slope/MSBP","labels":false,"ticks":false,"domain":false,"grid":false,"titleFontSize":17,"titlePadding":43}}}}
]
}
]
}
]}
]},
{"spacing":0,"resolve":{"scale":{"color":"independent"},"legend":{"color":"independent"}},"hconcat":[
{"width":1,"height":1,"view":{"stroke":null},"data":{"name":"sp"},"mark":{"type":"point","opacity":0,"size":1}},
{
"spacing":14,
"resolve":{"scale":{"color":"independent"},"legend":{"color":"independent"}},
"hconcat":[
{
"title":{"text":"e","anchor":"start","frame":"bounds","fontSize":26,"fontWeight":"bold","dx":0,"offset":-3,"color":"#000"},
"width":276,"height":190,"view":{"stroke":null},
"resolve":{"scale":{"y":"independent"}},
"layer":[
{"layer":[
{"data":{"name":"flow"},"transform":[{"filter":"datum.w=='2w'"}],"mark":{"type":"bar","stroke":"#8a8a8a","strokeWidth":0.8},
"encoding":{
"x":{"field":"key","type":"nominal","scale":{"domain":["Basal|C","Basal|CH","Basal|L","Basal|B","Basal|CA","Basal|CP","g1","1V|C","1V|CH","1V|L","1V|B","1V|CA","1V|CP","g2","2.5V|C","2.5V|CH","2.5V|L","2.5V|B","2.5V|CA","2.5V|CP","g3","5V|C","5V|CH","5V|L","5V|B","5V|CA","5V|CP"],"paddingInner":0.12,"paddingOuter":0.6},"axis":{"title":null,"labelExpr":"indexof(datum.value,'|')>0 ? split(datum.value,'|')[1] : ''","labelAngle":-55,"labelAlign":"right","labelBaseline":"middle","labelFontSize":11.5,"labelPadding":3,"ticks":false,"domainWidth":3,"domainColor":"#000","labelOverlap":false}},
"y":{"field":"m","type":"quantitative","scale":{"domain":[0,140],"nice":false},"axis":{"values":[0,20,40,60,80,100,120,140],"tickCount":10,"format":"d","title":"(ml/min/100g of tissue)","titleFontSize":12,"titlePadding":5,"labelFontSize":16,"labelPadding":2,"tickSize":4,"tickWidth":2,"tickColor":"#000","domainWidth":3,"domainColor":"#000","grid":false,"labelOverlap":false}},
"color":{"field":"b","type":"nominal","scale":{"domain":["C","CH","L","B","CA","CP"],"range":["#fde0e1","#bcdcf6","#809ff6","#3b7cf2","#0a5dc8","#073e86"]},"legend":null}
}},
{"data":{"name":"flow"},"transform":[{"filter":"datum.w=='2w'"}],"mark":{"type":"rule","color":"#444","strokeWidth":1.3},"encoding":{"x":{"field":"key","type":"nominal"},"y":{"field":"m","type":"quantitative"},"y2":{"field":"h"}}},
{"data":{"name":"flow"},"transform":[{"filter":"datum.w=='2w'"}],"mark":{"type":"tick","color":"#444","thickness":1.5,"size":6},"encoding":{"x":{"field":"key","type":"nominal"},"y":{"field":"h","type":"quantitative"}}},
{"data":{"name":"flow"},"transform":[{"filter":"datum.w=='2w' && datum.a != ''"}],"mark":{"type":"text","fontSize":18,"baseline":"bottom","dy":-1,"lineBreak":"\n","lineHeight":12,"color":"#111"},"encoding":{"x":{"field":"key","type":"nominal"},"y":{"field":"h","type":"quantitative"},"text":{"field":"a"}}},
{"data":{"name":"brk"},"mark":{"type":"rule","color":"#000","strokeWidth":1.5,"clip":false},"encoding":{"x":{"field":"k1","type":"nominal"},"x2":{"field":"k2"},"y":{"datum":-29}}},
{"data":{"name":"brk"},"mark":{"type":"rule","color":"#000","strokeWidth":1.5,"clip":false},"encoding":{"x":{"field":"k1","type":"nominal"},"y":{"datum":-18},"y2":{"datum":-29}}},
{"data":{"name":"brk"},"mark":{"type":"rule","color":"#000","strokeWidth":1.5,"clip":false},"encoding":{"x":{"field":"k2","type":"nominal"},"y":{"datum":-18},"y2":{"datum":-29}}},
{"data":{"name":"brk"},"mark":{"type":"text","fontSize":13,"baseline":"middle","clip":false,"color":"#111"},"encoding":{"x":{"field":"km","type":"nominal","bandPosition":1},"y":{"datum":-37},"text":{"field":"g"}}},
{"data":{"values":[{"s":"2w"}]},"mark":{"type":"text","fontSize":15,"baseline":"middle","color":"#111"},"encoding":{"x":{"datum":"g2","type":"nominal"},"y":{"datum":131},"text":{"field":"s"}}}
]},
{"data":{"values":[{"v":0}]},"mark":{"type":"point","opacity":0},"encoding":{"y":{"field":"v","type":"quantitative","scale":{"domain":[0,140],"nice":false},"axis":{"orient":"left","title":"Cavernous Blood Flow","labels":false,"ticks":false,"domain":false,"grid":false,"titleFontSize":17,"titlePadding":47}}}}
]
},
{
"title":{"text":"f","anchor":"start","frame":"bounds","fontSize":26,"fontWeight":"bold","dx":-10,"offset":-3,"color":"#000"},
"width":295,"height":190,"view":{"stroke":null},
"resolve":{"scale":{"y":"independent"}},
"layer":[
{"layer":[
{"data":{"name":"flow"},"transform":[{"filter":"datum.w=='8w'"}],"mark":{"type":"bar","stroke":"#8a8a8a","strokeWidth":0.8},
"encoding":{
"x":{"field":"key","type":"nominal","scale":{"domain":["Basal|C","Basal|CH","Basal|L","Basal|B","Basal|CA","Basal|CP","g1","1V|C","1V|CH","1V|L","1V|B","1V|CA","1V|CP","g2","2.5V|C","2.5V|CH","2.5V|L","2.5V|B","2.5V|CA","2.5V|CP","g3","5V|C","5V|CH","5V|L","5V|B","5V|CA","5V|CP"],"paddingInner":0.12,"paddingOuter":0.6},"axis":{"title":null,"labelExpr":"indexof(datum.value,'|')>0 ? split(datum.value,'|')[1] : ''","labelAngle":-55,"labelAlign":"right","labelBaseline":"middle","labelFontSize":11.5,"labelPadding":3,"ticks":false,"domainWidth":3,"domainColor":"#000","labelOverlap":false}},
"y":{"field":"m","type":"quantitative","scale":{"domain":[0,140],"nice":false},"axis":{"values":[0,20,40,60,80,100,120,140],"tickCount":10,"format":"d","title":"(ml/min/100g of tissue)","titleFontSize":12,"titlePadding":5,"labelFontSize":16,"labelPadding":2,"tickSize":4,"tickWidth":2,"tickColor":"#000","domainWidth":3,"domainColor":"#000","grid":false,"labelOverlap":false}},
"color":{"field":"b","type":"nominal","scale":{"domain":["C","CH","L","B","CA","CP"],"range":["#fde0e1","#bcdcf6","#809ff6","#3b7cf2","#0a5dc8","#073e86"]},"legend":null}
}},
{"data":{"name":"flow"},"transform":[{"filter":"datum.w=='8w'"}],"mark":{"type":"rule","color":"#444","strokeWidth":1.3},"encoding":{"x":{"field":"key","type":"nominal"},"y":{"field":"m","type":"quantitative"},"y2":{"field":"h"}}},
{"data":{"name":"flow"},"transform":[{"filter":"datum.w=='8w'"}],"mark":{"type":"tick","color":"#444","thickness":1.5,"size":6},"encoding":{"x":{"field":"key","type":"nominal"},"y":{"field":"h","type":"quantitative"}}},
{"data":{"name":"flow"},"transform":[{"filter":"datum.w=='8w' && datum.a != ''"}],"mark":{"type":"text","fontSize":18,"baseline":"bottom","dy":-1,"lineBreak":"\n","lineHeight":12,"color":"#111"},"encoding":{"x":{"field":"key","type":"nominal"},"y":{"field":"h","type":"quantitative"},"text":{"field":"a"}}},
{"data":{"name":"brk"},"mark":{"type":"rule","color":"#000","strokeWidth":1.5,"clip":false},"encoding":{"x":{"field":"k1","type":"nominal"},"x2":{"field":"k2"},"y":{"datum":-29}}},
{"data":{"name":"brk"},"mark":{"type":"rule","color":"#000","strokeWidth":1.5,"clip":false},"encoding":{"x":{"field":"k1","type":"nominal"},"y":{"datum":-18},"y2":{"datum":-29}}},
{"data":{"name":"brk"},"mark":{"type":"rule","color":"#000","strokeWidth":1.5,"clip":false},"encoding":{"x":{"field":"k2","type":"nominal"},"y":{"datum":-18},"y2":{"datum":-29}}},
{"data":{"name":"brk"},"mark":{"type":"text","fontSize":13,"baseline":"middle","clip":false,"color":"#111"},"encoding":{"x":{"field":"km","type":"nominal","bandPosition":1},"y":{"datum":-37},"text":{"field":"g"}}},
{"data":{"values":[{"s":"8w"}]},"mark":{"type":"text","fontSize":15,"baseline":"middle","color":"#111"},"encoding":{"x":{"datum":"g2","type":"nominal"},"y":{"datum":131},"text":{"field":"s"}}}
]},
{"data":{"values":[{"v":0}]},"mark":{"type":"point","opacity":0},"encoding":{"y":{"field":"v","type":"quantitative","scale":{"domain":[0,140],"nice":false},"axis":{"orient":"left","title":"Cavernous Blood Flow","labels":false,"ticks":false,"domain":false,"grid":false,"titleFontSize":17,"titlePadding":47}}}}
]
}
]
}
]}
]
}
